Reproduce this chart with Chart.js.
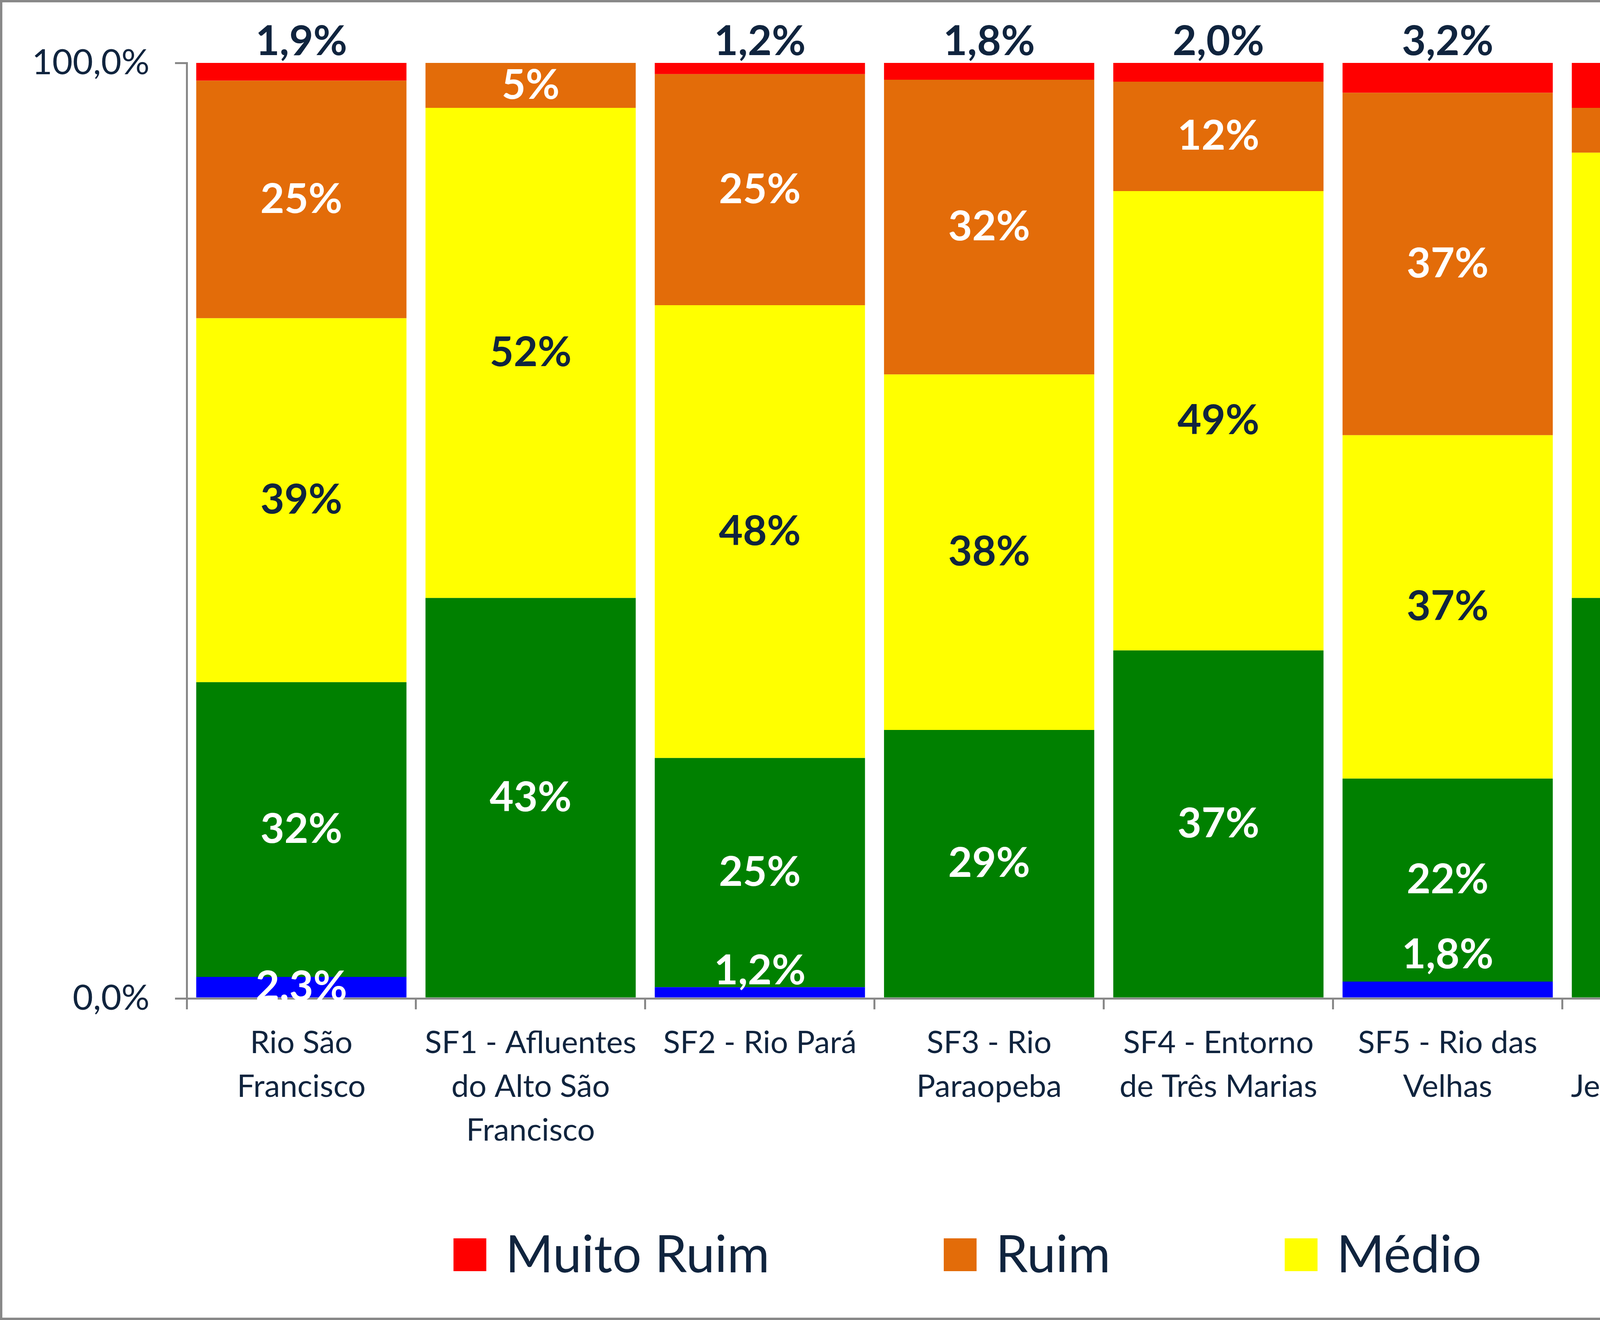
<!DOCTYPE html>
<html>
<head>
<meta charset="utf-8">
<script src="https://cdn.jsdelivr.net/npm/chart.js@4.4.1/dist/chart.umd.min.js"></script>
<style>
  html, body { margin: 0; padding: 0; background: #fff; }
  #wrap { width: 6940px; height: 3378px; box-sizing: border-box; border: 6px solid #888; background: #fff; }
  #chart { display: block; }
</style>
</head>
<body>
<div id="wrap"><canvas id="chart" width="6928" height="3366"></canvas></div>
<script>
// sub-bacias (x axis)
const categories = [
  ['Rio São', 'Francisco'],
  ['SF1 - Afluentes', 'do Alto São', 'Francisco'],
  ['SF2 - Rio Pará'],
  ['SF3 - Rio', 'Paraopeba'],
  ['SF4 - Entorno', 'de Três Marias'],
  ['SF5 - Rio das', 'Velhas'],
  ['SF6 - Rios', 'Jequitaí e Pacuí'],
  ['SF7 - Rio', 'Paracatu'],
  ['SF8 - Rio', 'Urucuia'],
  ['SF9 - Rios', 'Pandeiro e', 'Calindó'],
  ['SF10 -', 'Afluentes do', 'Rio Verde', 'Grande']
];

// % of each class per sub-basin
const excelente = [2.3, 0, 1.2, 0, 0, 1.8, 0, 3.3, 0, 17.5, 6.9];
const bom       = [31.5, 42.8, 24.5, 28.7, 37.2, 21.7, 42.8, 58.9, 54.5, 39.9, 24.0];
const medio     = [38.9, 52.4, 48.4, 38.0, 49.1, 36.7, 47.6, 31.1, 34.1, 37.6, 31.1];
const ruim      = [25.4, 4.8, 24.7, 31.5, 11.7, 36.6, 4.8, 6.7, 11.4, 5.0, 38.0];
const muitoRuim = [1.9, 0, 1.2, 1.8, 2.0, 3.2, 4.8, 0, 0, 0, 0];

const yTicks = [0, 100];

// small labels of "Excelente" pushed up above the thin blue segment (in % units)
const excLabelLift = [0, 0, 2.3, 0, 0, 3.7, 0, 3.6, 0, 0, 0];

const navy = '#10243E';
const FONT = 'Lato';

const segmentLabels = {
  id: 'segmentLabels',
  afterDatasetsDraw(chart) {
    const ctx = chart.ctx;
    const yScale = chart.scales.y;
    const unit = yScale.getPixelForValue(0) - yScale.getPixelForValue(1);
    ctx.save();
    ctx.font = 'bold 106px ' + FONT;
    ctx.textAlign = 'center';
    chart.data.datasets.forEach((ds, di) => {
      const meta = chart.getDatasetMeta(di);
      meta.data.forEach((bar, i) => {
        const v = ds.data[i];
        if (!v) return;
        const p = bar.getProps(['x', 'y', 'base'], true);
        const text = ds.decimals ? v.toFixed(1).replace('.', ',') + '%' : Math.round(v) + '%';
        ctx.fillStyle = ds.labelColor;
        if (ds.labelTop) {
          ctx.textBaseline = 'alphabetic';
          ctx.fillText(text, p.x, p.y - 20);
        } else {
          let cy = (p.y + p.base) / 2;
          if (ds.lift) cy -= ds.lift[i] * unit;
          ctx.textBaseline = 'middle';
          ctx.fillText(text, p.x, cy);
        }
      });
    });
    ctx.restore();
  }
};

const bottomLegend = {
  id: 'bottomLegend',
  afterDraw(chart) {
    const ctx = chart.ctx;
    const items = chart.data.datasets.slice().reverse();
    const box = 84, gap = 49, spacing = 446;
    ctx.save();
    ctx.font = '132px ' + FONT;
    const widths = items.map(d => box + gap + ctx.measureText(d.label).width);
    const total = widths.reduce((a, b) => a + b, 0) + spacing * (items.length - 1);
    let x = chart.width / 2 - total / 2;
    const top = chart.height - 203;
    items.forEach((d, k) => {
      ctx.fillStyle = d.backgroundColor;
      ctx.fillRect(x, top, box, box);
      ctx.fillStyle = navy;
      ctx.textBaseline = 'alphabetic';
      ctx.textAlign = 'left';
      ctx.fillText(d.label, x + box + gap, top + 87);
      x += widths[k] + spacing;
    });
    ctx.restore();
  }
};

Chart.defaults.font.family = FONT;
Chart.defaults.color = navy;

new Chart(document.getElementById('chart'), {
  type: 'bar',
  data: {
    labels: categories,
    datasets: [
      { label: 'Excelente', data: excelente, backgroundColor: '#0000FF', labelColor: '#FFFFFF', decimals: true, lift: excLabelLift },
      { label: 'Bom', data: bom, backgroundColor: '#008000', labelColor: '#FFFFFF' },
      { label: 'Médio', data: medio, backgroundColor: '#FFFF00', labelColor: navy },
      { label: 'Ruim', data: ruim, backgroundColor: '#E36C09', labelColor: '#FFFFFF' },
      { label: 'Muito Ruim', data: muitoRuim, backgroundColor: '#FF0000', labelColor: navy, decimals: true, labelTop: true }
    ]
  },
  options: {
    responsive: false,
    devicePixelRatio: 1,
    animation: false,
    layout: { padding: { top: 155, left: 0, right: 0, bottom: 347 } },
    datasets: { bar: { categoryPercentage: 1, barPercentage: 0.917, borderWidth: 0 } },
    plugins: { legend: { display: false }, tooltip: { enabled: false } },
    scales: {
      x: {
        stacked: true,
        grid: { offset: true, drawOnChartArea: false, drawTicks: true, tickLength: 28, color: '#888', lineWidth: 5 },
        border: { color: '#888', width: 5 },
        ticks: { autoSkip: false, maxRotation: 0, padding: 30, color: navy, font: { size: 80, lineHeight: 1.4 } },
        afterFit(scale) { scale.height = 470; }
      },
      y: {
        stacked: true,
        min: 0,
        max: 100,
        afterBuildTicks(scale) { scale.ticks = yTicks.map(v => ({ value: v })); },
        grid: { drawOnChartArea: false, drawTicks: true, tickLength: 30, color: '#888', lineWidth: 5 },
        border: { color: '#888', width: 5 },
        ticks: {
          padding: 65,
          color: navy,
          font: { size: 90 },
          callback: v => v.toFixed(1).replace('.', ',') + '%'
        },
        afterFit(scale) { scale.width = 472; }
      }
    }
  },
  plugins: [segmentLabels, bottomLegend]
});
</script>
</body>
</html>
